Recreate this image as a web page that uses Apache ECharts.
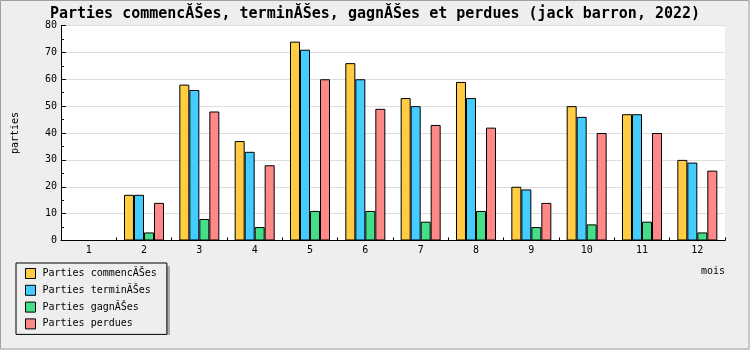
<!DOCTYPE html>
<html>
<head>
<meta charset="utf-8">
<script src="https://cdn.jsdelivr.net/npm/echarts@6/dist/echarts.min.js"></script>
<style>html,body{margin:0;padding:0;background:#eeeeee;}#c{width:750px;height:350px;}</style>
</head>
<body>
<div id="c"></div>
<script>
const months = ['1','2','3','4','5','6','7','8','9','10','11','12'];
const commencees = [0,17,58,37,74,66,53,59,20,50,47,30];
const terminees  = [0,17,56,33,71,60,50,53,19,46,47,29];
const gagnees    = [0,3,8,5,11,11,7,11,5,6,7,3];
const perdues    = [0,14,48,28,60,49,43,42,14,40,40,26];
const seriesNames = ['Parties commencĂŠes','Parties terminĂŠes','Parties gagnĂŠes','Parties perdues'];
const titleText = 'Parties commencĂŠes, terminĂŠes, gagnĂŠes et perdues (jack barron, 2022)';

const mono = 'DejaVu Sans Mono';
const colors = ['#ffcc44','#44ccff','#44dd88','#ff8888'];
const dataSets = [commencees, terminees, gagnees, perdues];

const chart = echarts.init(document.getElementById('c'), null, {renderer:'canvas'});
chart.setOption({
  animation: false,
  backgroundColor: '#eeeeee',
  title: {
    text: titleText, left: 'center', top: 2,
    textStyle: {fontFamily: mono, fontSize: 15, fontWeight: 'bold', color: '#000'}
  },
  legend: {
    orient: 'vertical', left: 16, top: 263,
    padding: [5, 10, 5, 9],
    itemWidth: 10, itemHeight: 10, itemGap: 5.8,
    borderColor: '#000', borderWidth: 1, backgroundColor: '#eeeeee',
    icon: 'rect',
    itemStyle: {borderColor: '#000', borderWidth: 1},
    textStyle: {fontFamily: mono, fontSize: 10, color: '#000', lineHeight: 10, padding: [0,0,0,2]},
    data: seriesNames
  },
  graphic: [
    {type: 'rect', z: 1, shape: {x: 19, y: 266, width: 151, height: 69}, style: {fill: '#aaaaaa'}},
    {type: 'rect', z: 100, silent: true, shape: {x: 0.5, y: 0.5, width: 748.5, height: 348.5}, style: {fill: 'none', stroke: '#a0a0a0', lineWidth: 1}}
  ],
  grid: {left: 61, right: 25, top: 25.5, bottom: 109.5, show: true, backgroundColor: '#ffffff', borderWidth: 0},
  xAxis: {
    type: 'category', data: months, boundaryGap: true,
    name: 'mois', nameLocation: 'end', nameGap: 0,
    nameTextStyle: {fontFamily: mono, fontSize: 10, color: '#000', align: 'right', verticalAlign: 'top', padding: [26, 0, 0, 0]},
    axisLine: {lineStyle: {color: '#000', width: 1}},
    axisTick: {show: true, inside: true, length: 3, alignWithLabel: false, lineStyle: {color: '#000'}},
    axisLabel: {fontFamily: mono, fontSize: 10, color: '#000', margin: 5},
    splitLine: {show: false}
  },
  yAxis: {
    type: 'value', min: 0, max: 80, interval: 10,
    name: 'parties', nameLocation: 'middle', nameGap: 41, nameRotate: 90,
    nameTextStyle: {fontFamily: mono, fontSize: 10, color: '#000'},
    axisLine: {show: true, lineStyle: {color: '#000', width: 1}},
    axisTick: {show: true, inside: true, length: 5, lineStyle: {color: '#000'}},
    minorTick: {show: true, splitNumber: 2, length: 3, lineStyle: {color: '#000'}},
    axisLabel: {fontFamily: mono, fontSize: 10, color: '#000', margin: 4},
    splitLine: {show: true, lineStyle: {color: '#dddddd', width: 1}}
  },
  series: dataSets.map((d, i) => ({
    name: seriesNames[i], type: 'bar', data: d,
    barGap: 0, barCategoryGap: '27.7%',
    itemStyle: {color: colors[i], borderColor: '#000', borderWidth: 1}
  }))
});
</script>
</body>
</html>
